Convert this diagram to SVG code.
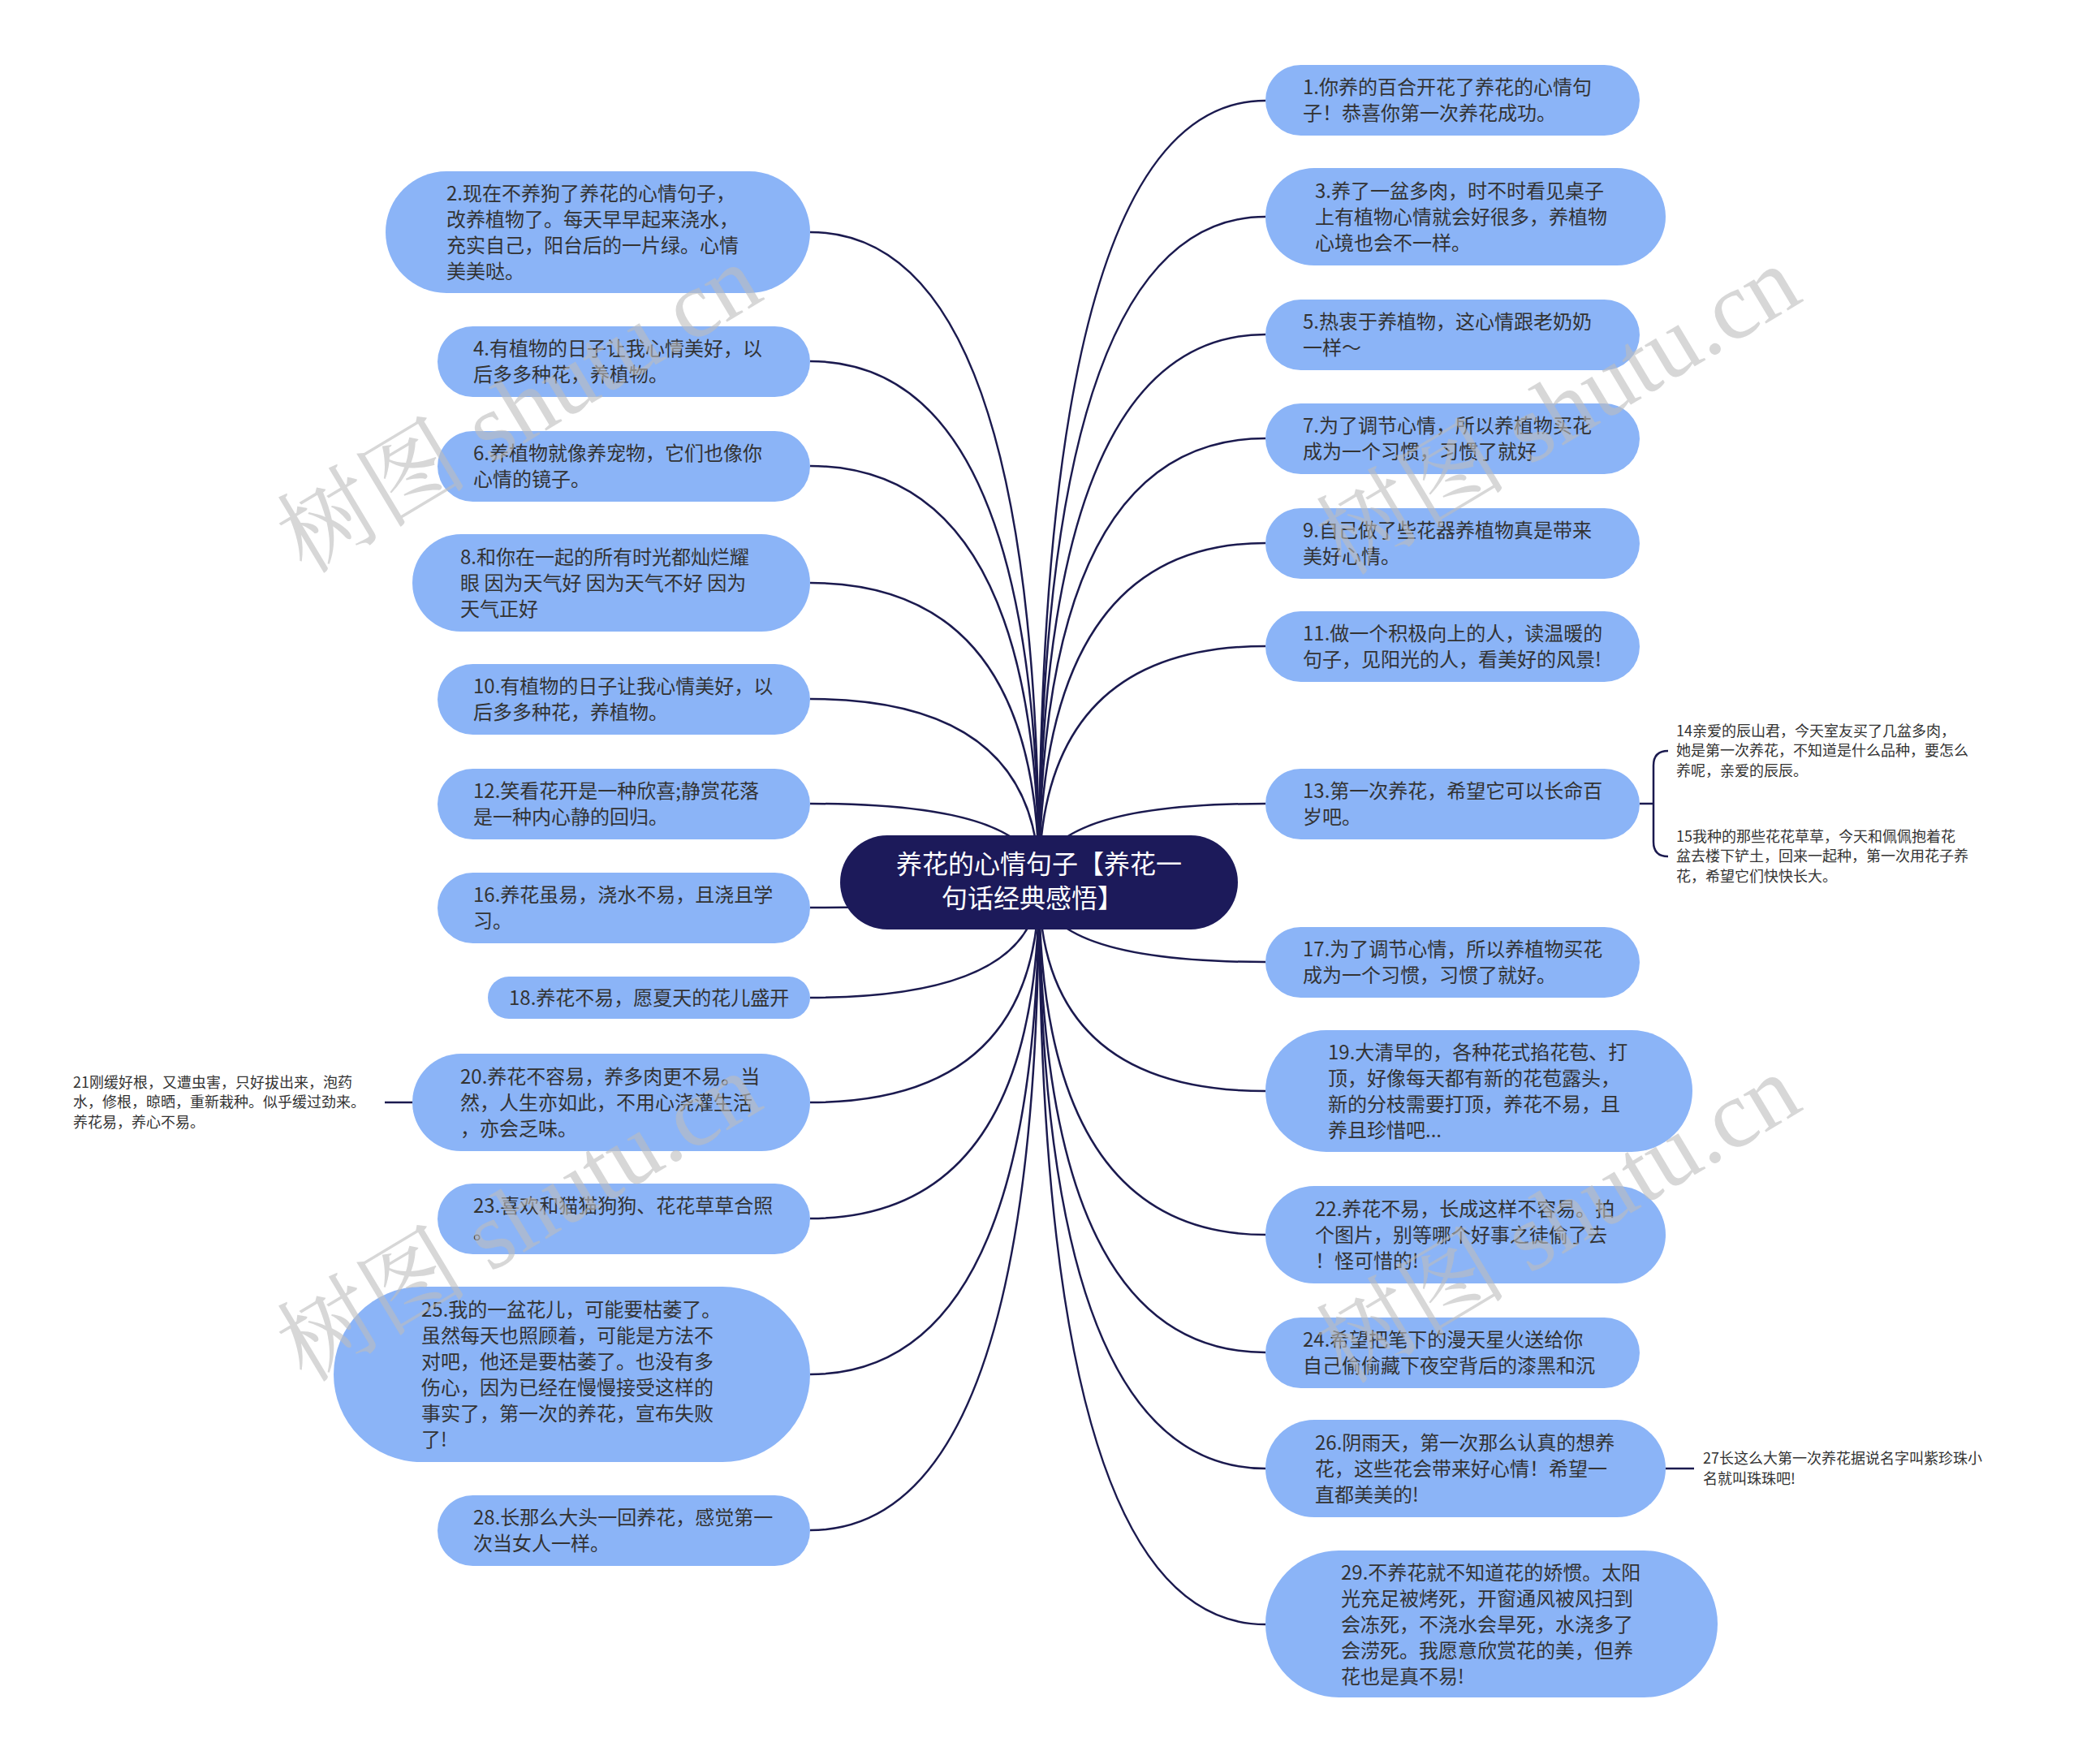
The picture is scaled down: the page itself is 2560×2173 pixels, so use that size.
<svg xmlns="http://www.w3.org/2000/svg" width="2560" height="2173" viewBox="0 0 2560 2173">
<style>
.n rect{fill:#8bb4f7}
.t{font-family:"Noto Sans CJK SC","Liberation Sans",sans-serif;font-size:24px;fill:#333333}
.s{font-family:"Noto Sans CJK SC","Liberation Sans",sans-serif;font-size:18px;fill:#333333}
.c{fill:none;stroke:#1b1a4f;stroke-width:2.5}
.m{font-family:"Noto Sans CJK SC","Liberation Sans",sans-serif;font-size:32px;fill:#ffffff;text-anchor:middle}
.wm{font-family:"Liberation Serif","Noto Serif CJK SC","Noto Sans CJK SC",serif;font-size:118px;fill:#bdbdbd;opacity:0.6;text-anchor:middle}
</style>
<rect width="2560" height="2173" fill="#ffffff"/>
<g id="connectors">
<path class="c" d="M1280 1087 Q1280 124 1559 124"/>
<path class="c" d="M1280 1087 Q1280 267 1559 267"/>
<path class="c" d="M1280 1087 Q1280 412 1559 412"/>
<path class="c" d="M1280 1087 Q1280 540 1559 540"/>
<path class="c" d="M1280 1087 Q1280 669 1559 669"/>
<path class="c" d="M1280 1087 Q1280 796 1559 796"/>
<path class="c" d="M1280 1087 Q1280 990 1559 990"/>
<path class="c" d="M1280 1087 Q1280 1185 1559 1185"/>
<path class="c" d="M1280 1087 Q1280 1344 1559 1344"/>
<path class="c" d="M1280 1087 Q1280 1521 1559 1521"/>
<path class="c" d="M1280 1087 Q1280 1666 1559 1666"/>
<path class="c" d="M1280 1087 Q1280 1809 1559 1809"/>
<path class="c" d="M1280 1087 Q1280 2001 1559 2001"/>
<path class="c" d="M1280 1087 Q1280 286 998 286"/>
<path class="c" d="M1280 1087 Q1280 445 998 445"/>
<path class="c" d="M1280 1087 Q1280 574 998 574"/>
<path class="c" d="M1280 1087 Q1280 718 998 718"/>
<path class="c" d="M1280 1087 Q1280 861 998 861"/>
<path class="c" d="M1280 1087 Q1280 990 998 990"/>
<path class="c" d="M1280 1087 Q1280 1118 998 1118"/>
<path class="c" d="M1280 1087 Q1280 1229 998 1229"/>
<path class="c" d="M1280 1087 Q1280 1358 998 1358"/>
<path class="c" d="M1280 1087 Q1280 1501 998 1501"/>
<path class="c" d="M1280 1087 Q1280 1693 998 1693"/>
<path class="c" d="M1280 1087 Q1280 1885 998 1885"/>
<path class="c" d="M2020 990 H2037 M2055 925 Q2037 925 2037 943 V1037 Q2037 1055 2055 1055"/>
<path class="c" d="M508 1358 H474"/>
<path class="c" d="M2052 1809 H2087"/>
</g>
<g id="center">
<rect x="1035" y="1029" width="490" height="116" rx="58" fill="#1c1a5a"/>
<text class="m"><tspan x="1280" y="1076">养花的心情句子【养花一</tspan><tspan x="1272" y="1118">句话经典感悟】</tspan></text>
</g>
<g id="n1" class="n"><rect x="1559" y="80" width="461" height="87" rx="43.5"/><text class="t"><tspan x="1605" y="116">1.你养的百合开花了养花的心情句</tspan><tspan x="1605" y="148">子！恭喜你第一次养花成功。</tspan></text></g>
<g id="n3" class="n"><rect x="1559" y="207" width="493" height="120" rx="60"/><text class="t"><tspan x="1620" y="244">3.养了一盆多肉，时不时看见桌子</tspan><tspan x="1620" y="276">上有植物心情就会好很多，养植物</tspan><tspan x="1620" y="308">心境也会不一样。</tspan></text></g>
<g id="n5" class="n"><rect x="1559" y="369" width="461" height="87" rx="43.5"/><text class="t"><tspan x="1605" y="405">5.热衷于养植物，这心情跟老奶奶</tspan><tspan x="1605" y="437">一样～</tspan></text></g>
<g id="n7" class="n"><rect x="1559" y="497" width="461" height="87" rx="43.5"/><text class="t"><tspan x="1605" y="533">7.为了调节心情，所以养植物买花</tspan><tspan x="1605" y="565">成为一个习惯，习惯了就好</tspan></text></g>
<g id="n9" class="n"><rect x="1559" y="626" width="461" height="87" rx="43.5"/><text class="t"><tspan x="1605" y="662">9.自己做了些花器养植物真是带来</tspan><tspan x="1605" y="694">美好心情。</tspan></text></g>
<g id="n11" class="n"><rect x="1559" y="753" width="461" height="87" rx="43.5"/><text class="t"><tspan x="1605" y="789">11.做一个积极向上的人，读温暖的</tspan><tspan x="1605" y="821">句子，见阳光的人，看美好的风景!</tspan></text></g>
<g id="n13" class="n"><rect x="1559" y="947" width="461" height="87" rx="43.5"/><text class="t"><tspan x="1605" y="983">13.第一次养花，希望它可以长命百</tspan><tspan x="1605" y="1015">岁吧。</tspan></text></g>
<g id="n14"><text class="s"><tspan x="2065" y="907">14亲爱的辰山君，今天室友买了几盆多肉，</tspan><tspan x="2065" y="931">她是第一次养花，不知道是什么品种，要怎么</tspan><tspan x="2065" y="956">养呢，亲爱的辰辰。</tspan></text></g>
<g id="n15"><text class="s"><tspan x="2065" y="1037">15我种的那些花花草草，今天和佩佩抱着花</tspan><tspan x="2065" y="1061">盆去楼下铲土，回来一起种，第一次用花子养</tspan><tspan x="2065" y="1086">花，希望它们快快长大。</tspan></text></g>
<g id="n17" class="n"><rect x="1559" y="1142" width="461" height="87" rx="43.5"/><text class="t"><tspan x="1605" y="1178">17.为了调节心情，所以养植物买花</tspan><tspan x="1605" y="1210">成为一个习惯，习惯了就好。</tspan></text></g>
<g id="n19" class="n"><rect x="1559" y="1269" width="526" height="150" rx="75"/><text class="t"><tspan x="1636" y="1305">19.大清早的，各种花式掐花苞、打</tspan><tspan x="1636" y="1337">顶，好像每天都有新的花苞露头，</tspan><tspan x="1636" y="1369">新的分枝需要打顶，养花不易，且</tspan><tspan x="1636" y="1401">养且珍惜吧...</tspan></text></g>
<g id="n22" class="n"><rect x="1559" y="1461" width="493" height="120" rx="60"/><text class="t"><tspan x="1620" y="1498">22.养花不易，长成这样不容易。拍</tspan><tspan x="1620" y="1530">个图片，别等哪个好事之徒偷了去</tspan><tspan x="1620" y="1562">！怪可惜的!</tspan></text></g>
<g id="n24" class="n"><rect x="1559" y="1623" width="461" height="87" rx="43.5"/><text class="t"><tspan x="1605" y="1659">24.希望把笔下的漫天星火送给你</tspan><tspan x="1605" y="1691">自己偷偷藏下夜空背后的漆黑和沉</tspan></text></g>
<g id="n26" class="n"><rect x="1559" y="1749" width="493" height="120" rx="60"/><text class="t"><tspan x="1620" y="1786">26.阴雨天，第一次那么认真的想养</tspan><tspan x="1620" y="1818">花，这些花会带来好心情！希望一</tspan><tspan x="1620" y="1850">直都美美的!</tspan></text></g>
<g id="n27"><text class="s"><tspan x="2098" y="1803">27长这么大第一次养花据说名字叫紫珍珠小</tspan><tspan x="2098" y="1828">名就叫珠珠吧!</tspan></text></g>
<g id="n29" class="n"><rect x="1559" y="1910" width="557" height="181" rx="90.5"/><text class="t"><tspan x="1652" y="1946">29.不养花就不知道花的娇惯。太阳</tspan><tspan x="1652" y="1978">光充足被烤死，开窗通风被风扫到</tspan><tspan x="1652" y="2010">会冻死，不浇水会旱死，水浇多了</tspan><tspan x="1652" y="2042">会涝死。我愿意欣赏花的美，但养</tspan><tspan x="1652" y="2074">花也是真不易!</tspan></text></g>
<g id="n2" class="n"><rect x="475" y="211" width="523" height="150" rx="75"/><text class="t"><tspan x="550" y="247">2.现在不养狗了养花的心情句子，</tspan><tspan x="550" y="279">改养植物了。每天早早起来浇水，</tspan><tspan x="550" y="311">充实自己，阳台后的一片绿。心情</tspan><tspan x="550" y="343">美美哒。</tspan></text></g>
<g id="n4" class="n"><rect x="539" y="402" width="459" height="87" rx="43.5"/><text class="t"><tspan x="583" y="438">4.有植物的日子让我心情美好，以</tspan><tspan x="583" y="470">后多多种花，养植物。</tspan></text></g>
<g id="n6" class="n"><rect x="539" y="531" width="459" height="87" rx="43.5"/><text class="t"><tspan x="583" y="567">6.养植物就像养宠物，它们也像你</tspan><tspan x="583" y="599">心情的镜子。</tspan></text></g>
<g id="n8" class="n"><rect x="508" y="658" width="490" height="120" rx="60"/><text class="t"><tspan x="567" y="695">8.和你在一起的所有时光都灿烂耀</tspan><tspan x="567" y="727">眼 因为天气好 因为天气不好 因为</tspan><tspan x="567" y="759">天气正好</tspan></text></g>
<g id="n10" class="n"><rect x="539" y="818" width="459" height="87" rx="43.5"/><text class="t"><tspan x="583" y="854">10.有植物的日子让我心情美好，以</tspan><tspan x="583" y="886">后多多种花，养植物。</tspan></text></g>
<g id="n12" class="n"><rect x="539" y="947" width="459" height="87" rx="43.5"/><text class="t"><tspan x="583" y="983">12.笑看花开是一种欣喜;静赏花落</tspan><tspan x="583" y="1015">是一种内心静的回归。</tspan></text></g>
<g id="n16" class="n"><rect x="539" y="1075" width="459" height="87" rx="43.5"/><text class="t"><tspan x="583" y="1111">16.养花虽易，浇水不易，且浇且学</tspan><tspan x="583" y="1143">习。</tspan></text></g>
<g id="n18" class="n"><rect x="601" y="1203" width="397" height="52" rx="26"/><text class="t"><tspan x="627" y="1238">18.养花不易，愿夏天的花儿盛开</tspan></text></g>
<g id="n20" class="n"><rect x="508" y="1298" width="490" height="120" rx="60"/><text class="t"><tspan x="567" y="1335">20.养花不容易，养多肉更不易。当</tspan><tspan x="567" y="1367">然，人生亦如此，不用心浇灌生活</tspan><tspan x="567" y="1399">，亦会乏味。</tspan></text></g>
<g id="n21"><text class="s"><tspan x="90" y="1340">21刚缓好根，又遭虫害，只好拔出来，泡药</tspan><tspan x="90" y="1364">水，修根，晾晒，重新栽种。似乎缓过劲来。</tspan><tspan x="90" y="1389">养花易，养心不易。</tspan></text></g>
<g id="n23" class="n"><rect x="539" y="1458" width="459" height="87" rx="43.5"/><text class="t"><tspan x="583" y="1494">23.喜欢和猫猫狗狗、花花草草合照</tspan><tspan x="583" y="1526">。</tspan></text></g>
<g id="n25" class="n"><rect x="411" y="1585" width="587" height="216" rx="108"/><text class="t"><tspan x="519" y="1622">25.我的一盆花儿，可能要枯萎了。</tspan><tspan x="519" y="1654">虽然每天也照顾着，可能是方法不</tspan><tspan x="519" y="1686">对吧，他还是要枯萎了。也没有多</tspan><tspan x="519" y="1718">伤心，因为已经在慢慢接受这样的</tspan><tspan x="519" y="1750">事实了，第一次的养花，宣布失败</tspan><tspan x="519" y="1782">了!</tspan></text></g>
<g id="n28" class="n"><rect x="539" y="1842" width="459" height="87" rx="43.5"/><text class="t"><tspan x="583" y="1878">28.长那么大头一回养花，感觉第一</tspan><tspan x="583" y="1910">次当女人一样。</tspan></text></g>
<g id="watermark">
<text class="wm" transform="translate(660 538) rotate(-31)">树图 shutu.cn</text>
<text class="wm" transform="translate(1940 540) rotate(-31)">树图 shutu.cn</text>
<text class="wm" transform="translate(660 1534) rotate(-31)">树图 shutu.cn</text>
<text class="wm" transform="translate(1940 1536) rotate(-31)">树图 shutu.cn</text>
</g>
</svg>
